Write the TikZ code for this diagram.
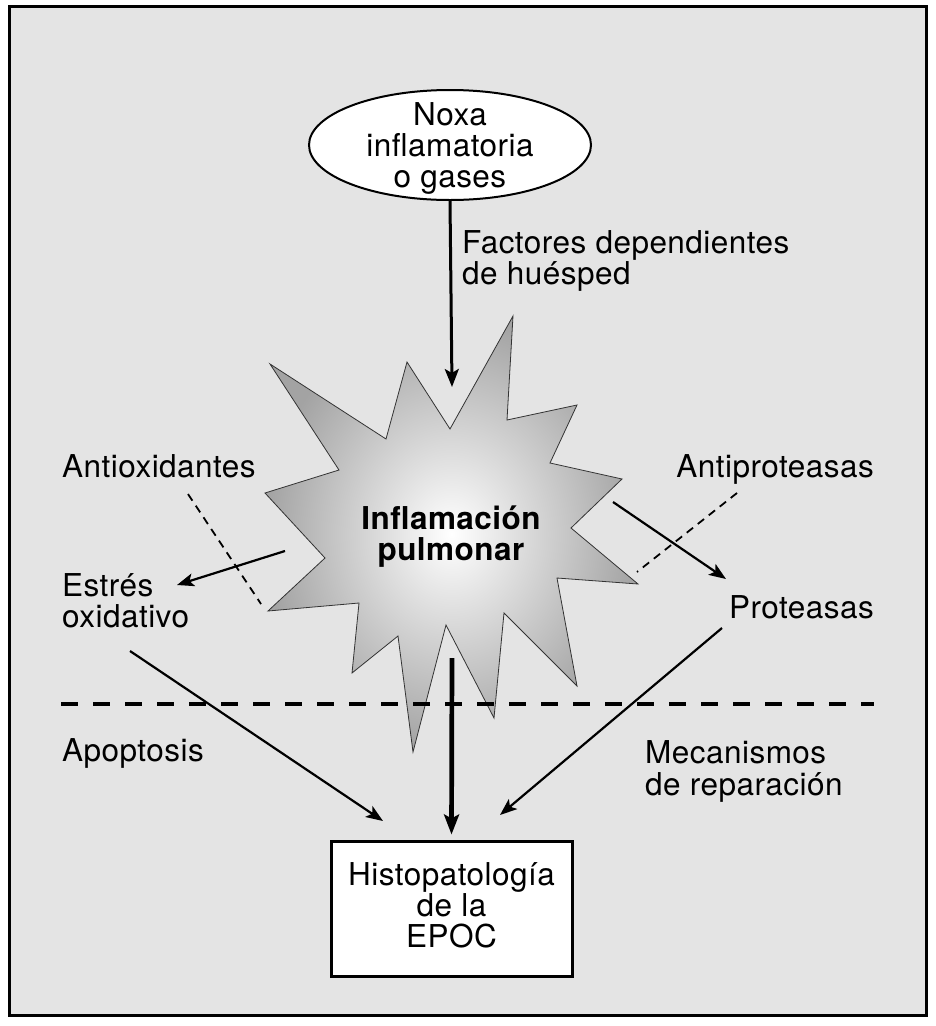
\documentclass[tikz,border=0pt]{standalone}
\usepackage{fontspec}
\setmainfont{TeX Gyre Heros}[LetterSpace=1.5]
\usetikzlibrary{shapes.geometric,arrows.meta}
\definecolor{bg}{RGB}{228,228,228}
\begin{document}
\begin{tikzpicture}[x=1pt,y=-1pt,
  lbl/.style={inner sep=0pt, font=\fontsize{31.5}{31}\selectfont, align=left},
  arr/.style={line width=2.2pt, -{Stealth[length=17pt,width=13pt,inset=4pt]}},
  dsh/.style={line width=1.8pt, dash pattern=on 8pt off 6pt},
]
\useasboundingbox (0,0) rectangle (936,1026);
\draw[line width=3pt, fill=bg] (9.5,6.5) rectangle (926.5,1015);

% starburst
\shadedraw[inner color=white, outer color=black!36, draw=black!80, line width=0.8pt]
 (513,316) -- (507,420) -- (577,405) -- (550,463) -- (622,479) -- (571,528)
 -- (638,584) -- (557,578) -- (577,686) -- (504,613) -- (494,718) -- (446,625)
 -- (413,752) -- (398,636) -- (352,673) -- (359,603) -- (268,611) -- (325,558)
 -- (265,493) -- (339,470) -- (270,364) -- (386,439) -- (407,362) -- (450,429) -- cycle;

% horizontal dashed line
\coordinate (hl) at (61,704);
\coordinate (hr) at (874,704);
\draw[line width=3.5pt, dash pattern=on 17pt off 15pt] (hl) -- (hr);

% nodes
\node[ellipse, draw, fill=white, line width=2pt, minimum width=282pt, minimum height=110pt, inner sep=0pt] (noxa) at (450,145) {};
\node[lbl, align=center, anchor=base] (noxatxt) at (450,187) {Noxa\\inflamatoria\\o gases};

\node[draw, fill=white, line width=3pt, minimum width=241pt, minimum height=135pt, inner sep=0pt] (histo) at (451.5,908.5) {};
\node[lbl, align=center, anchor=base] (histotxt) at (451.5,947) {Histopatología\\de la\\EPOC};

\node[lbl, anchor=base, align=center, font=\fontsize{31.5}{31}\selectfont\bfseries] (infl) at (451,560) {Inflamación\\pulmonar};

\node[lbl, anchor=base west] (factores) at (462,284) {Factores dependientes\\de huésped};
\node[lbl, anchor=base west] (antiox) at (62,477) {Antioxidantes};
\node[lbl, anchor=base east] (antiprot) at (874,477) {Antiproteasas};
\node[lbl, anchor=base west] (estres) at (62,627) {Estrés\\oxidativo};
\node[lbl, anchor=base east] (prot) at (874,618) {Proteasas};
\node[lbl, anchor=base west] (apop) at (62,761) {Apoptosis};
\node[lbl, anchor=base west, font=\fontsize{31.5}{32}\selectfont] (meca) at (645,795) {Mecanismos\\de reparación};

% connector coordinates
\coordinate (topend) at (452,387);
\coordinate (botstart) at (452,658);
\coordinate (lstart) at (285,551);
\coordinate (lend) at (177,585);
\coordinate (rstart) at (613,502);
\coordinate (rend) at (726,579);
\coordinate (estart) at (130,651);
\coordinate (eend) at (383,821);
\coordinate (pstart) at (722,628);
\coordinate (pend) at (500,815);
\coordinate (d1a) at (188,494);
\coordinate (d1b) at (261,604);
\coordinate (d2a) at (737,493);
\coordinate (d2b) at (637,572);

% connectors
\draw[arr, line width=3pt, -{Stealth[length=18pt,width=14pt,inset=4pt]}] (noxa.south) -- (topend);
\draw[line width=4.7pt, -{Stealth[length=20pt,width=15pt,inset=4pt]}, shorten >=5pt] (botstart) -- (histo.north);
\draw[arr] (lstart) -- (lend);
\draw[arr] (rstart) -- (rend);
\draw[arr] (estart) -- (eend);
\draw[arr] (pstart) -- (pend);
\draw[dsh] (d1a) -- (d1b);
\draw[dsh] (d2a) -- (d2b);
\end{tikzpicture}
\end{document}
